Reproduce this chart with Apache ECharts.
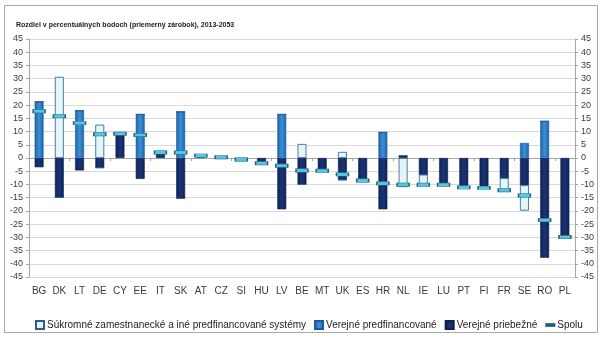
<!DOCTYPE html>
<html>
<head>
<meta charset="utf-8">
<script src="https://cdn.jsdelivr.net/npm/echarts@6/dist/echarts.min.js"></script>
<style>
  html, body { margin: 0; padding: 0; background: #fff; }
  #chart { width: 604px; height: 346px; }
</style>
</head>
<body>
<div id="chart"></div>
<script>
// Change in percentage points (average earnings), 2013-2053, by country
const countries = ['BG','DK','LT','DE','CY','EE','IT','SK','AT','CZ','SI','HU','LV','BE','MT','UK','ES','HR','NL','IE','LU','PT','FI','FR','SE','RO','PL'];

// Public pay-as-you-go schemes
const publicPayg = [-3.5, -14.9, -4.7, -3.7, 9.2, -7.9, 1.8, -15.4, 0.9, 0.25, -0.6, -1.5, -19.4, -10.0, -4.8, -8.3, -8.5, -19.4, 0.9, -6.3, -10.1, -11.1, -11.2, -7.6, -10.3, -37.7, -29.9];
// Public funded schemes
const publicFunded = [21.3, 0, 17.9, 0, 0, 16.5, 0, 17.5, 0, 0, 0, 0, 16.5, 0, 0, 0, 0, 9.7, 0, 0, 0, 0, 0, 0, 5.7, 13.9, 0];
// Private occupational and other funded schemes
const privateFunded = [0, 30.7, 0, 12.6, 0, 0, 0, 0, 0, 0, 0, 0, 0, 5.3, 0, 2.3, 0, 0, -11.0, -3.8, 0, 0, 0, -4.6, -9.6, 0, 0];
// Overall change
const total = [17.7, 15.8, 13.2, 9.0, 9.2, 8.7, 2.1, 2.1, 0.9, 0.25, -0.6, -2.0, -2.9, -4.7, -4.8, -6.2, -8.5, -9.6, -10.1, -10.1, -10.1, -11.1, -11.3, -12.2, -14.2, -23.5, -29.9];

const yTicks = { min: -45, max: 45, interval: 5 };

const names = {
  priv: 'Súkromné zamestnanecké a iné predfinancované systémy',
  funded: 'Verejné predfinancované',
  payg: 'Verejné priebežné',
  total: 'Spolu'
};

function hGrad(edge, mid) {
  return {
    type: 'linear', x: 0, y: 0, x2: 1, y2: 0,
    colorStops: [
      { offset: 0, color: edge },
      { offset: 0.5, color: mid },
      { offset: 1, color: edge }
    ]
  };
}

const chart = echarts.init(document.getElementById('chart'), null, { renderer: 'canvas' });

const axisFont = { fontFamily: 'Liberation Sans', color: '#3a3a3a' };

chart.setOption({
  animation: false,
  backgroundColor: '#fff',
  graphic: [{
    type: 'rect',
    shape: { x: 4.5, y: 5.5, width: 593, height: 327 },
    style: { fill: 'none', stroke: '#a8a8a8', lineWidth: 1 },
    z: -1
  }],
  title: {
    left: 11, top: 17,
    text: '{n|Rozdiel v percentuálnych bodoch (priemerný zárobok), }{b|2013-2053}',
    textStyle: {
      rich: {
        n: { fontFamily: 'Liberation Sans', fontSize: 7, color: '#222' },
        b: { fontFamily: 'Liberation Sans', fontSize: 7, fontWeight: 'bold', color: '#222' }
      }
    }
  },
  legend: {
    left: 30, top: 315,
    itemWidth: 8, itemHeight: 8, itemGap: 8,
    textStyle: { fontFamily: 'Liberation Sans', fontSize: 10, color: '#222', padding: [0, 0, 0, -2] },
    data: [
      { name: names.priv, icon: 'rect' },
      { name: names.funded, icon: 'rect' },
      { name: names.payg, icon: 'rect' },
      { name: names.total, icon: 'path://M0,0H10V2.2H0Z' }
    ]
  },
  grid: { left: 29, right: 29, top: 39, bottom: 69 },
  xAxis: [{
    type: 'category',
    data: countries,
    axisLine: { show: false, onZero: false },
    axisTick: { show: false },
    axisLabel: { ...axisFont, fontSize: 10, margin: 9 }
  }, {
    type: 'category',
    data: countries,
    position: 'bottom',
    axisLine: { onZero: true, lineStyle: { color: '#a6a6a6', width: 1 } },
    axisTick: { show: true, length: 3, inside: false, lineStyle: { color: '#a6a6a6' } },
    axisLabel: { show: false }
  }],
  yAxis: [{
    type: 'value', ...yTicks,
    axisLine: { show: true, lineStyle: { color: '#a6a6a6' } },
    axisTick: { show: true, length: 3, lineStyle: { color: '#a6a6a6' } },
    splitLine: { lineStyle: { color: '#dadada' } },
    axisLabel: { ...axisFont, fontSize: 9, margin: 6 }
  }, {
    type: 'value', ...yTicks, position: 'right',
    axisLine: { show: true, lineStyle: { color: '#a6a6a6' } },
    axisTick: { show: true, length: 3, lineStyle: { color: '#a6a6a6' } },
    splitLine: { show: false },
    axisLabel: { ...axisFont, fontSize: 9, margin: 6 }
  }],
  series: [{
    name: names.payg, type: 'bar', stack: 'pension', barWidth: '44%',
    data: publicPayg,
    itemStyle: { color: hGrad('#0f2358', '#1a3474'), borderColor: '#0d1f4f', borderWidth: 0.6 }
  }, {
    name: names.funded, type: 'bar', stack: 'pension', barWidth: '44%',
    data: publicFunded,
    itemStyle: { color: hGrad('#1d63a9', '#3c8fd6'), borderColor: '#1a5a9c', borderWidth: 0.6 }
  }, {
    name: names.priv, type: 'bar', stack: 'pension', barWidth: '44%',
    data: privateFunded,
    itemStyle: { color: '#e2f6fa', borderColor: '#2a5c8e', borderWidth: 0.8 }
  }, {
    name: names.total, type: 'scatter',
    data: total,
    symbol: 'rect', symbolSize: [12, 3.5],
    itemStyle: { color: '#55c6dc', borderColor: '#1f5f82', borderWidth: 0.8, opacity: 1 },
    z: 5
  }]
});
</script>
</body>
</html>
